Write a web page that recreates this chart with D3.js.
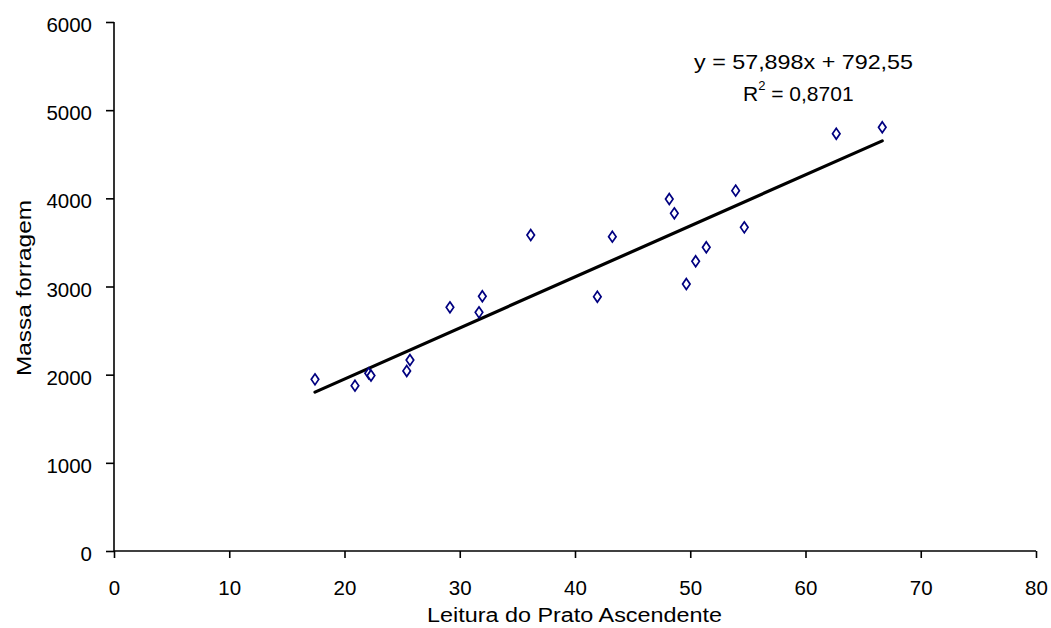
<!DOCTYPE html>
<html><head><meta charset="utf-8">
<script src="https://cdn.jsdelivr.net/npm/d3@7"></script>
<style>body{margin:0;background:#fff}svg{display:block}text{font-family:"Liberation Sans",Arial,sans-serif;fill:#000}</style>
</head><body>
<svg id="c" width="1051" height="628"></svg>
<script>
const leitura = [17.44,20.91,22.1,22.3,25.40,25.68,29.15,31.67,31.96,36.16,43.24,41.94,48.18,48.62,53.94,54.69,51.39,50.47,49.66,62.67,66.66];
const massa   = [1947,1875,2015,1990,2042,2166,2764,2707,2889,3584,3565,2884,3992,3830,4087,3671,3445,3286,3028,4733,4806];
const slope = 57.898, intercept = 792.55;
const eqLabel = "y = 57,898x + 792,55";
const r2Label = "0,8701";
const xTicks = [0,10,20,30,40,50,60,70,80];
const yTicks = [0,1000,2000,3000,4000,5000,6000];
const xTitle = "Leitura do Prato Ascendente";
const yTitle = "Massa forragem";

const FONT = "Liberation Sans, Arial, sans-serif";
const svg = d3.select("#c");
const x = d3.scaleLinear().domain([0,80]).range([114,1036]);
const y = d3.scaleLinear().domain([0,6000]).range([551,22]);

const xa = svg.append("g").attr("transform","translate(0,551)")
  .call(d3.axisBottom(x).tickValues(xTicks).tickFormat(d3.format("d")).tickSize(7).tickSizeOuter(0));
const ya = svg.append("g").attr("transform","translate(114,0)")
  .call(d3.axisLeft(y).tickValues(yTicks).tickFormat(d3.format("d")).tickSize(8).tickSizeOuter(0));
[xa,ya].forEach(a=>{
  a.attr("font-size",20.5).attr("font-family",FONT);
  a.selectAll("path,line").attr("stroke","#000").attr("stroke-width",1.6);
  a.selectAll("text").attr("fill","#000");
});
xa.selectAll("text").attr("y",44).attr("dy",0);
ya.selectAll("text").attr("x",-22).attr("dy",9.5);
xa.select(".domain").attr("d","M114,0H1036");
ya.select(".domain").attr("d","M0,22V551");

// trendline
const xmin = d3.min(leitura), xmax = d3.max(leitura);
svg.append("line")
  .attr("x1",x(xmin)).attr("y1",y(slope*xmin+intercept))
  .attr("x2",x(xmax)).attr("y2",y(slope*xmax+intercept))
  .attr("stroke","#000").attr("stroke-width",3.2).attr("stroke-linecap","round");

// points
const sym = d3.symbol().type(d3.symbolDiamond).size(34);
svg.append("g").selectAll("path").data(leitura.map((d,i)=>[d,massa[i]])).join("path")
  .attr("d",sym).attr("transform",d=>`translate(${x(d[0])},${y(d[1])}) scale(1.2,1)`)
  .attr("fill","#fff").attr("stroke","#000080").attr("stroke-width",1.5);

// equation
svg.append("text").attr("x",694).attr("y",69).attr("font-size",21)
  .attr("textLength",219).attr("lengthAdjust","spacingAndGlyphs").text(eqLabel);
const r = svg.append("text").attr("x",743).attr("y",101).attr("font-size",21);
r.append("tspan").text("R");
r.append("tspan").attr("font-size",13).attr("dy",-11).text("2");
r.append("tspan").attr("dy",11).text(" = "+r2Label);

// axis titles
svg.append("text").attr("x",427).attr("y",622).attr("font-size",20)
  .attr("textLength",295).attr("lengthAdjust","spacingAndGlyphs").text(xTitle);
svg.append("text").attr("transform","translate(31,376) rotate(-90)").attr("font-size",20.5)
  .attr("textLength",176).attr("lengthAdjust","spacingAndGlyphs").text(yTitle);
</script>
</body></html>
